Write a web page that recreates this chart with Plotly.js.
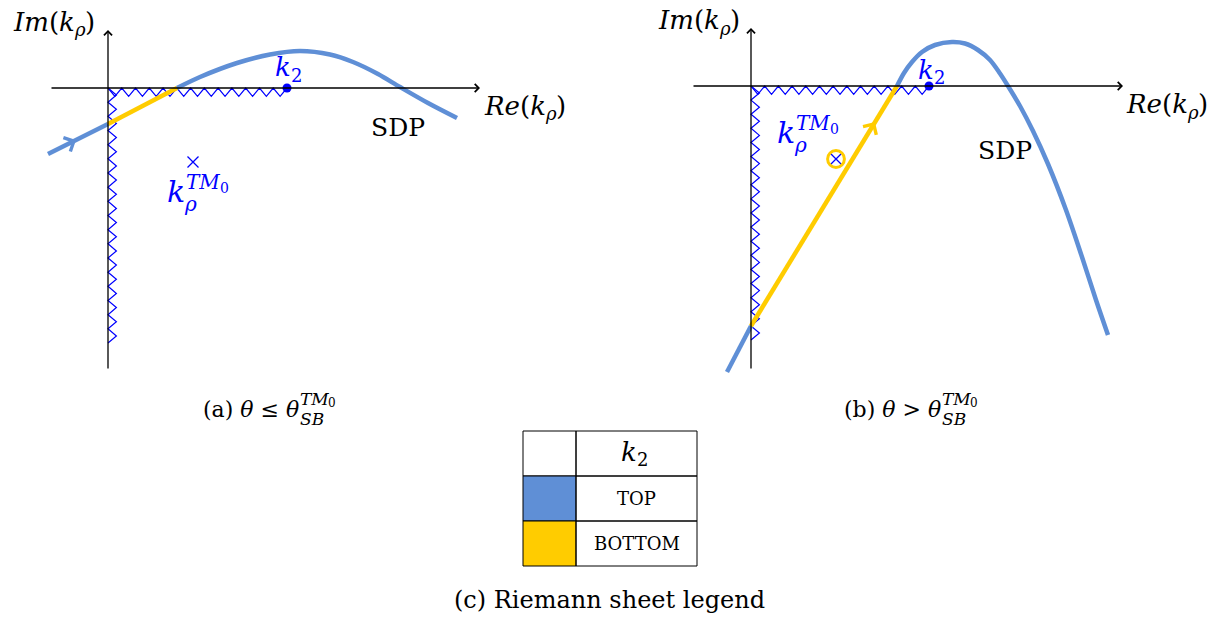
<!DOCTYPE html>
<html><head><meta charset="utf-8">
<script src="https://cdn.plot.ly/plotly-3.0.1.min.js"></script>
<style>html,body{margin:0;padding:0;background:#fff}#chart{width:1224px;height:623px}</style>
</head><body><div id="chart"></div>
<script>
// ---------- Panel (a): theta <= theta_SB ----------
const aEntryRe  = [-1.5, 0];
const aEntryIm  = [-1.65, -0.9];
const aBottomRe = [0, 1.725];
const aBottomIm = [-0.9, 0];
const aTopRe = [1.725, 2.3, 3.225, 4.05, 4.8, 5.55, 6.125, 6.75, 7.3, 8.0, 8.725];
const aTopIm = [0, 0.275, 0.625, 0.8375, 0.925, 0.8375, 0.65, 0.35, 0.025, -0.375, -0.75];
const aK2 = [4.475, 0];
const aPole = [2.125, -1.85];
const aCutBottom = -6.375;
const aFlowArrow = [-0.8, -1.3];

// ---------- Panel (b): theta > theta_SB ----------
const bEntryRe  = [-0.6, 0];
const bEntryIm  = [-7.15, -6.0];
const bBottomRe = [0, 3.65];
const bBottomIm = [-6.0, 0];
const bTopRe = [3.65, 3.825, 4.025, 4.275, 4.6, 5.025, 5.35, 5.675, 5.975, 6.225, 6.425, 6.725, 7.05, 7.425, 7.875, 8.275, 8.625, 8.925];
const bTopIm = [0, 0.325, 0.6, 0.85, 1.025, 1.1, 1.0625, 0.9, 0.65, 0.3125, 0, -0.5, -1.125, -1.95, -3.1, -4.275, -5.35, -6.225];
const bK2 = [4.45, 0];
const bPole = [2.125, -1.825];
const bCutBottom = -6.35;
const bFlowArrow = [3.1, -0.9];

// legend table
const sheetNames = ['TOP', 'BOTTOM'];
const sheetColors = ['#5f8fd6', '#ffcc00'];

const BLUE = '#5f8fd6', YEL = '#ffcc00', CUT = '#0000ff';
const SERIF = '"DejaVu Serif", "Liberation Serif", serif';

function zigzag(x0, y0, x1, y1, amp, side, period) {
  const len = Math.hypot(x1 - x0, y1 - y0);
  const n = Math.round(len / period);
  const ux = (x1 - x0) / len, uy = (y1 - y0) / len;
  const px = -uy * amp * side, py = ux * amp * side;
  const xs = [], ys = [];
  for (let i = 0; i <= 2 * n; i++) {
    const t = i / (2 * n);
    xs.push(x0 + (x1 - x0) * t + (i % 2 ? px : 0));
    ys.push(y0 + (y1 - y0) * t + (i % 2 ? py : 0));
  }
  return {xs, ys};
}

function panelTraces(xa, ya, entryRe, entryIm, botRe, botIm, topRe, topIm, k2, pole, cutBottom) {
  const h = zigzag(0, 0, k2[0], 0, 0.21, -1, 0.345);
  const v = zigzag(0, 0, 0, cutBottom, 0.21, 1, 0.345);
  const base = {xaxis: xa, yaxis: ya, hoverinfo: 'skip', showlegend: false};
  return [
    Object.assign({type: 'scatter', mode: 'lines', x: h.xs, y: h.ys, line: {color: CUT, width: 1.2, simplify: false}}, base),
    Object.assign({type: 'scatter', mode: 'lines', x: v.xs, y: v.ys, line: {color: CUT, width: 1.2, simplify: false}}, base),
    Object.assign({type: 'scatter', mode: 'lines', x: entryRe, y: entryIm, line: {color: BLUE, width: 4.5}}, base),
    Object.assign({type: 'scatter', mode: 'lines', x: topRe, y: topIm, line: {color: BLUE, width: 4.5, shape: 'spline', smoothing: 0.9}}, base),
    Object.assign({type: 'scatter', mode: 'lines', x: botRe, y: botIm, line: {color: YEL, width: 4.5}}, base),
    Object.assign({type: 'scatter', mode: 'markers', x: [k2[0]], y: [k2[1]], marker: {color: CUT, size: 9}}, base),
    Object.assign({type: 'scatter', mode: 'markers', x: [pole[0]], y: [pole[1]], marker: {color: CUT, size: 11, symbol: 'x-thin-open', line: {color: CUT, width: 1.3}}}, base)
  ];
}

const traces = [].concat(
  panelTraces('x', 'y', aEntryRe, aEntryIm, aBottomRe, aBottomIm, aTopRe, aTopIm, aK2, aPole, aCutBottom),
  panelTraces('x2', 'y2', bEntryRe, bEntryIm, bBottomRe, bBottomIm, bTopRe, bTopIm, bK2, bPole, bCutBottom)
);

const ann = [];
function axisArrow(xr, yr, x, y, ax, ay) {
  ann.push({xref: xr, yref: yr, axref: xr, ayref: yr, x: x, y: y, ax: ax, ay: ay, text: '',
    showarrow: true, arrowhead: 4, arrowwidth: 1.3, arrowsize: 1.2, arrowcolor: '#000'});
}
function flowArrow(xr, yr, head, dirx, diry, color) {
  ann.push({xref: xr, yref: yr, axref: xr, ayref: yr, x: head[0], y: head[1],
    ax: head[0] - dirx, ay: head[1] - diry, text: '', showarrow: true, arrowhead: 4,
    arrowwidth: 2, arrowsize: 1.5, arrowcolor: color});
}
// text placed at a page pixel position (labels, not data marks)
const P = (px) => px / 1224, Q = (py) => 1 - py / 623;
function txt(px, py, text, size, color, xanchor) {
  ann.push({xref: 'paper', yref: 'paper', x: P(px), y: Q(py), text: text, showarrow: false,
    font: {family: SERIF, size: size, color: color || '#000'}, borderpad: 0, borderwidth: 0,
    xanchor: xanchor || 'center', yanchor: 'middle'});
}
// axes
axisArrow('x', 'y', 9.3, 0, -1.45, 0);
axisArrow('x', 'y', 0, 1.45, 0, -7.05);
axisArrow('x2', 'y2', 9.3, 0, -1.475, 0);
axisArrow('x2', 'y2', 0, 1.45, 0, -7.1);
// flow arrows
flowArrow('x', 'y', aFlowArrow, 0.4, 0.2, BLUE);
flowArrow('x2', 'y2', bFlowArrow, 0.16, 0.26, YEL);

// composite math labels: base + subscript/superscript pieces
function funcLabel(px, py, name) {           // Name(k_rho)
  txt(px, py, '<i>' + name + '</i>(<i>k</i>', 26, '#000', 'right');
  txt(px - 1, py + 8, '<i>ρ</i>', 18, '#000', 'left');
  txt(px + 10, py, ')', 26, '#000', 'left');
}
function k2Label(px, py, color) {
  txt(px, py, '<i>k</i>', 26, color, 'right');
  txt(px, py + 8, '2', 18, color, 'left');
}
function poleLabel(px, py) {                 // k_rho^{TM_0}
  txt(px, py, '<i>k</i>', 30, CUT, 'right');
  txt(px + 1, py - 9, '<i>TM</i>', 20, CUT, 'left');
  txt(px + 35, py - 3, '0', 14, CUT, 'left');
  txt(px - 1, py + 13, '<i>ρ</i>', 20, CUT, 'left');
}
function thetaSB(px, py, main) {
  txt(px, py, main, 22, '#000', 'right');
  txt(px + 1, py - 10, '<i>TM</i>', 17, '#000', 'left');
  txt(px + 29, py - 6, '0', 12, '#000', 'left');
  txt(px + 1, py + 10, '<i>SB</i>', 17, '#000', 'left');
}

// panel a labels
funcLabel(75, 22, 'Im');
funcLabel(546, 106, 'Re');
txt(398, 127, 'SDP', 25);
k2Label(291, 67, CUT);
poleLabel(185, 191);
// panel b labels
funcLabel(720, 20, 'Im');
funcLabel(1188, 104, 'Re');
txt(1005, 150, 'SDP', 25);
k2Label(934, 70, CUT);
poleLabel(795, 132);

// captions
thetaSB(299, 409, '(a) <i>θ</i> ≤ <i>θ</i>');
thetaSB(941, 409, '(b) <i>θ</i> > <i>θ</i>');
txt(609, 600, '(c) Riemann sheet legend', 24);

// legend table
const colX = [523, 576, 697];
const rowY = [431, 476, 521, 566];
const shapes = [];
for (let r = 0; r < 3; r++) {
  for (let c = 0; c < 2; c++) {
    let fill = 'rgba(0,0,0,0)';
    if (c === 0 && r > 0) fill = sheetColors[r - 1];
    shapes.push({type: 'rect', xref: 'paper', yref: 'paper', x0: P(colX[c]), x1: P(colX[c + 1]),
      y0: Q(rowY[r + 1]), y1: Q(rowY[r]), fillcolor: fill, line: {color: '#000', width: 1}});
  }
}
k2Label(637, 452, '#000');
sheetNames.forEach((n, i) => txt(636.5, (rowY[i + 1] + rowY[i + 2]) / 2, n, 18));

// circle around pole in (b)
shapes.push({type: 'circle', xref: 'x2', yref: 'y2', x0: bPole[0] - 0.21, x1: bPole[0] + 0.21,
  y0: bPole[1] - 0.21, y1: bPole[1] + 0.21, line: {color: YEL, width: 3}});

const hidden = {visible: false, fixedrange: true};
const layout = {
  width: 1224, height: 623, margin: {l: 0, r: 0, t: 0, b: 0},
  paper_bgcolor: '#fff', plot_bgcolor: 'rgba(0,0,0,0)', showlegend: false,
  font: {family: SERIF},
  xaxis: Object.assign({domain: [0, 0.5], range: [-2.7, 12.6]}, hidden),
  yaxis: Object.assign({domain: [1 - 390 / 623, 1], range: [-7.55, 2.2]}, hidden),
  xaxis2: Object.assign({domain: [0.5, 1], range: [-3.475, 11.825]}, hidden),
  yaxis2: Object.assign({domain: [1 - 390 / 623, 1], range: [-7.6, 2.15]}, hidden),
  annotations: ann, shapes: shapes
};
Plotly.newPlot('chart', traces, layout, {staticPlot: true, displayModeBar: false});
</script></body></html>
